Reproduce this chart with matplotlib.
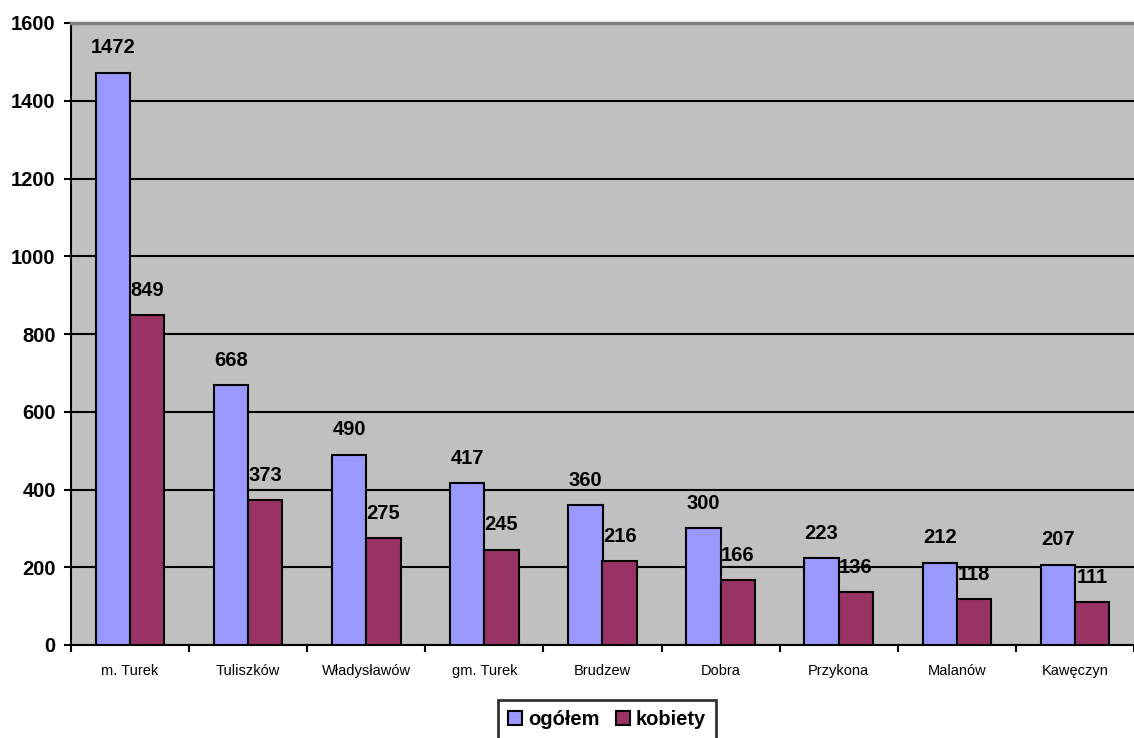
import numpy as np
import matplotlib.pyplot as plt
from matplotlib.patches import Patch

plt.rcParams['font.family'] = ['Liberation Sans', 'DejaVu Sans']

# data
gminy = ['m. Turek', 'Tuliszków', 'Władysławów', 'gm. Turek', 'Brudzew',
         'Dobra', 'Przykona', 'Malanów', 'Kawęczyn']
ogolem = [1472, 668, 490, 417, 360, 300, 223, 212, 207]
kobiety = [849, 373, 275, 245, 216, 166, 136, 118, 111]

blue = '#9999FF'
red = '#993366'

fig = plt.figure(figsize=(11.34, 7.38), dpi=100)
ax = fig.add_axes([71/1134, 93/738, 1 - 71/1134, (645 - 23)/738])
ax.set_facecolor('#C0C0C0')

x = np.arange(len(gminy))
w = 0.29
b1 = ax.bar(x - w/2, ogolem, w, color=blue, edgecolor='black', linewidth=1.5, zorder=3)
b2 = ax.bar(x + w/2, kobiety, w, color=red, edgecolor='black', linewidth=1.5, zorder=3)

for bars, vals in ((b1, ogolem), (b2, kobiety)):
    for b, v in zip(bars, vals):
        ax.annotate(str(v), (b.get_x() + b.get_width()/2, v), xytext=(0, 11),
                    textcoords='offset points', ha='center', va='bottom',
                    fontsize=14.5, fontweight='bold')

ax.set_ylim(0, 1600)
ax.set_xlim(-0.5, len(gminy) - 0.5)
ax.set_yticks(range(0, 1601, 200))
ax.set_yticklabels([str(v) for v in range(0, 1601, 200)], fontsize=14.5, fontweight='bold')
ax.yaxis.grid(True, color='black', linewidth=1.5, zorder=1)
ax.set_axisbelow(True)

ax.set_xticks(np.arange(-0.5, len(gminy), 1))
ax.set_xticklabels([])
ax.set_xticks(x, minor=True)
ax.set_xticklabels(gminy, minor=True, fontsize=10.5)
ax.tick_params(axis='x', which='minor', length=0, pad=14)
ax.tick_params(axis='x', which='major', length=5, width=1.5, direction='out')
ax.tick_params(axis='y', length=5, width=1.5, direction='out', pad=6)

for s in ('left', 'bottom'):
    ax.spines[s].set_linewidth(1.5)
    ax.spines[s].set_color('black')
ax.spines['top'].set_color('#808080')
ax.spines['top'].set_linewidth(2.5)
ax.spines['right'].set_visible(False)

handles = [Patch(facecolor=blue, edgecolor='black', linewidth=1.5, label='ogółem'),
           Patch(facecolor=red, edgecolor='black', linewidth=1.5, label='kobiety')]
leg = fig.legend(handles=handles, loc='upper center', bbox_to_anchor=(607/1134, 1 - 700/738),
                 ncol=2, frameon=True, fancybox=False, handlelength=0.7, handleheight=0.7,
                 handletextpad=0.3, columnspacing=0.8, borderpad=0.5, borderaxespad=0,
                 prop={'size': 14.5, 'weight': 'bold'})
leg.get_frame().set_edgecolor('black')
leg.get_frame().set_linewidth(2)

fig.savefig('out.png', dpi=100)
